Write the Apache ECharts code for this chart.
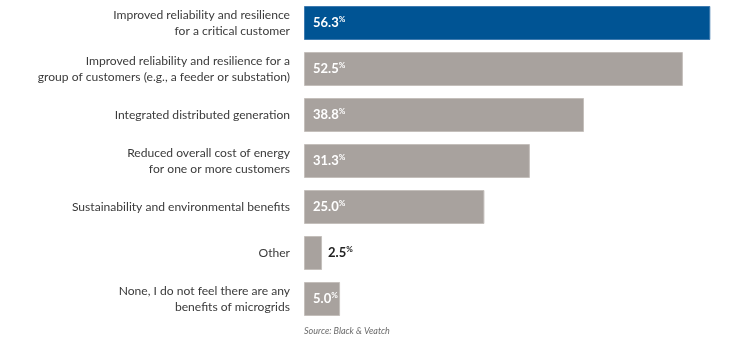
<!DOCTYPE html>
<html>
<head>
<meta charset="utf-8">
<script src="https://cdn.jsdelivr.net/npm/echarts@6/dist/echarts.min.js"></script>
<style>
html,body{margin:0;padding:0;background:#fff;}
#chart{width:756px;height:362px;}
</style>
</head>
<body>
<div id="chart"></div>
<script>
const categories = [
  "Improved reliability and resilience\nfor a critical customer",
  "Improved reliability and resilience for a\ngroup of customers (e.g., a feeder or substation)",
  "Integrated distributed generation",
  "Reduced overall cost of energy\nfor one or more customers",
  "Sustainability and environmental benefits",
  "Other",
  "None, I do not feel there are any\nbenefits of microgrids"
];
const values = [56.3, 52.5, 38.8, 31.3, 25.0, 2.5, 5.0];
const highlightIndex = 0;
const outsideLabelIndex = [5];
const sourceText = "Source: Black & Veatch";

const BLUE = '#005494';
const GRAY = '#a8a29e';

const chart = echarts.init(document.getElementById('chart'), null, {renderer: 'canvas'});

const seriesData = values.map((v, i) => {
  const outside = outsideLabelIndex.includes(i);
  return {
    value: v,
    itemStyle: {
      color: i === highlightIndex ? BLUE : GRAY,
      borderColor: i === highlightIndex ? '#3f7bb0' : '#c4bfbb',
      borderWidth: 1
    },
    label: {
      show: true,
      position: outside ? 'right' : 'insideLeft',
      distance: outside ? 6 : 9,
      formatter: (p) => '{v|' + p.value.toFixed(1) + '}{p|%}',
      rich: {
        v: {fontSize: 13, fontFamily: 'Lato', fontWeight: 'bold', color: outside ? '#222' : '#fff'},
        p: {fontSize: 8, fontFamily: 'Lato', fontWeight: 'bold', color: outside ? '#222' : '#fff', padding: [0, 0, 7, 0]}
      }
    }
  };
});

chart.setOption({
  animation: false,
  backgroundColor: '#fff',
  grid: {left: 304, right: 19, top: 0, height: 322},
  xAxis: {
    type: 'value', min: 0, max: 60, show: false
  },
  yAxis: {
    type: 'category',
    data: categories,
    inverse: true,
    axisLine: {show: false},
    axisTick: {show: false},
    axisLabel: {
      margin: 14,
      color: '#3a3a3a',
      fontFamily: 'Lato',
      fontSize: 12.1,
      lineHeight: 16,
      align: 'right'
    }
  },
  series: [{
    type: 'bar',
    data: seriesData,
    barWidth: 34
  }],
  graphic: [{
    type: 'text',
    left: 304,
    top: 327,
    style: {
      text: sourceText,
      fontFamily: 'Lato',
      fontStyle: 'italic',
      fontSize: 9,
      fill: '#6b6b6b'
    }
  }]
});
</script>
</body>
</html>
